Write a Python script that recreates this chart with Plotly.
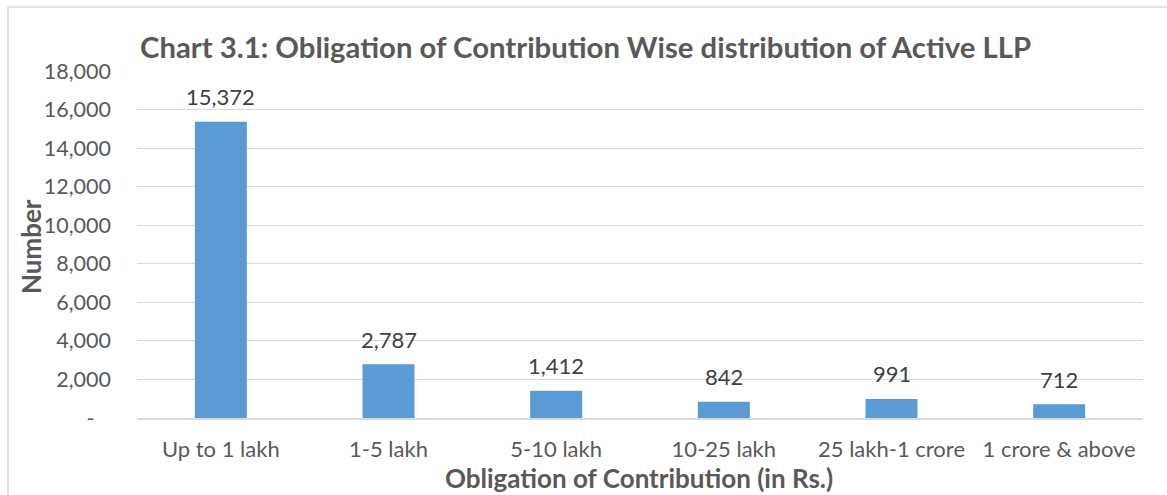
import plotly.graph_objects as go

categories = ["Up to 1 lakh", "1-5 lakh", "5-10 lakh", "10-25 lakh", "25 lakh-1 crore", "1 crore & above"]
values = [15372, 2787, 1412, 842, 991, 712]
y_tickvals = [0, 2000, 4000, 6000, 8000, 10000, 12000, 14000, 16000, 18000]
y_ticktext = ["-\u00a0\u00a0\u00a0", "2,000", "4,000", "6,000", "8,000", "10,000", "12,000", "14,000", "16,000", "18,000"]

FONT = "Lato, Open Sans, sans-serif"
L, R, T, B = 137, 24, 71, 77
W, H = 1167, 495
pw, ph = W - L - R, H - T - B

fig = go.Figure(go.Bar(
    x=categories, y=values,
    marker=dict(color="#5B9BD5", line=dict(width=0)),
    width=0.31,
))

label_annotations = [
    dict(x=c, y=v, xref="x", yref="y", text=f"{v:,}", showarrow=False,
         yanchor="middle", xanchor="center", yshift=25,
         font=dict(family=FONT, size=22, color="#404040"))
    for c, v in zip(categories, values)
]

fig.update_layout(
    width=W, height=H,
    margin=dict(l=L, r=R, t=T, b=B, autoexpand=False),
    paper_bgcolor="white", plot_bgcolor="white",
    showlegend=False,
    title=dict(text="<b>Chart 3.1: Obligation of Contribution Wise distribution of Active LLP</b>",
               x=140 / W, xanchor="left", y=1 - 48 / H, yanchor="middle",
               font=dict(family=FONT, size=29.3, color="#595959")),
    font=dict(family=FONT, color="#595959"),
    xaxis=dict(tickfont=dict(size=22, color="#595959"), showgrid=False, automargin=False,
               showline=True, linecolor="#d9d9d9", linewidth=1.5, ticks="",
               ticklabelstandoff=11),
    yaxis=dict(range=[0, 18000], tickvals=y_tickvals, ticktext=y_ticktext, automargin=False,
               tickfont=dict(size=21.5, color="#595959"), showgrid=True,
               gridcolor="#d9d9d9", gridwidth=1.2, zeroline=False,
               ticklabelstandoff=25),
    annotations=label_annotations + [
        dict(text="<b>Number</b>", xref="paper", yref="paper",
             x=(31 - L) / pw, y=(H - B - 247) / ph, xanchor="center", yanchor="middle",
             textangle=-90, showarrow=False, font=dict(family=FONT, size=26, color="#595959")),
        dict(text="<b>Obligation of Contribution (in Rs.)</b>", xref="paper", yref="paper",
             x=(639 - L) / pw, y=(H - B - 478) / ph, xanchor="center", yanchor="middle",
             showarrow=False, font=dict(family=FONT, size=26, color="#595959")),
    ],
    shapes=[dict(type="rect", xref="paper", yref="paper",
                 x0=(8 - L) / pw, x1=(W + 10 - L) / pw,
                 y0=(H - B - (H + 10)) / ph, y1=(H - B - 7) / ph,
                 line=dict(color="#d9d9d9", width=1.5), fillcolor="rgba(0,0,0,0)", layer="below")],
)

fig.write_html("out.html", config={"displayModeBar": False})
with open("out.html", encoding="utf-8") as f:
    html = f.read()
html = html.replace("<head>", "<head><style>html,body{margin:0;padding:0;overflow:hidden;}</style>", 1)
with open("out.html", "w", encoding="utf-8") as f:
    f.write(html)
